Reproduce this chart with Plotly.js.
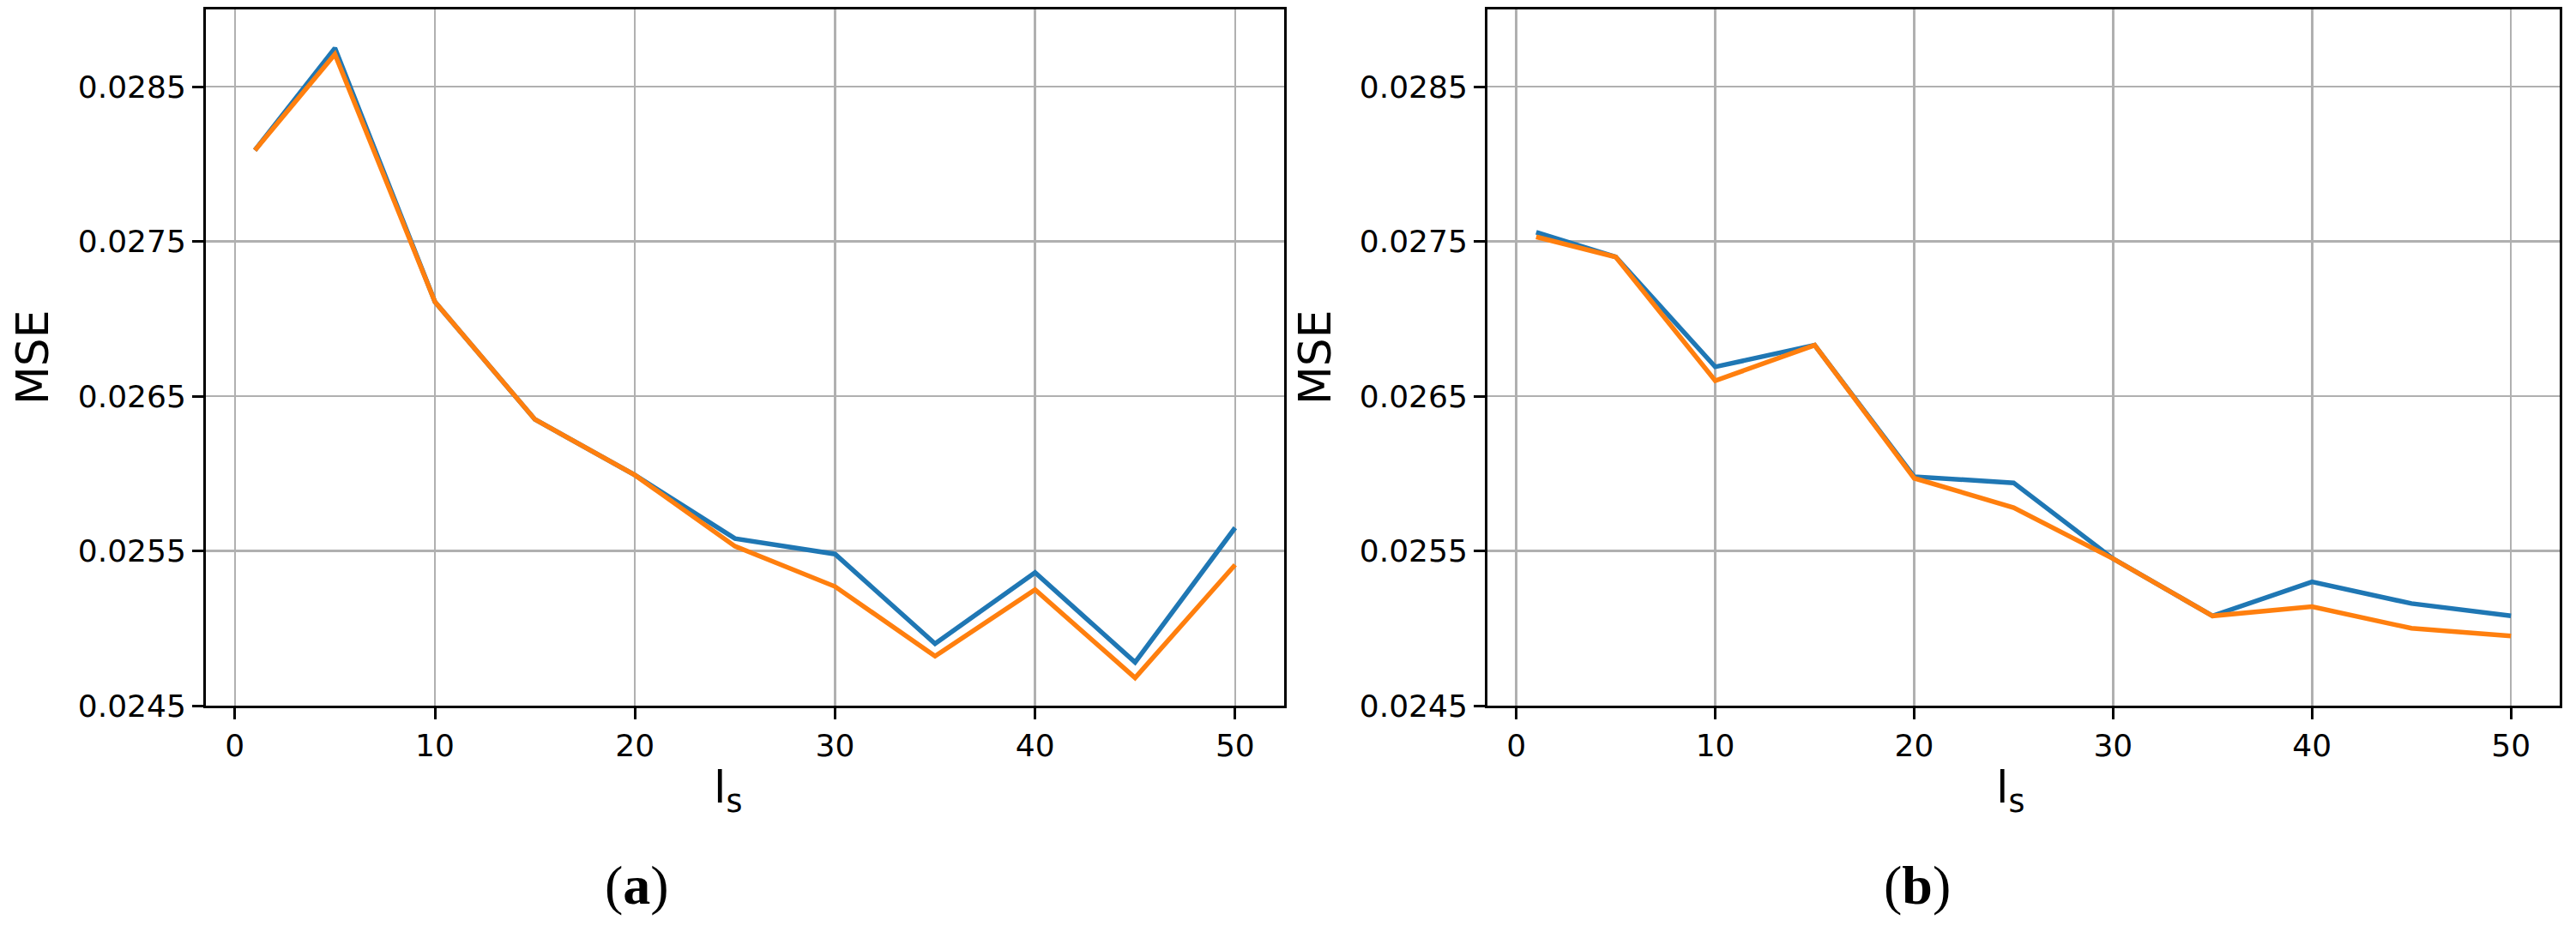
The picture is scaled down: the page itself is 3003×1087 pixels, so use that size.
<!DOCTYPE html>
<html>
<head>
<meta charset="utf-8">
<script src="https://cdn.plot.ly/plotly-3.0.1.min.js"></script>
<style>
  html, body { margin: 0; padding: 0; background: #ffffff; }
  #chart { width: 3003px; height: 1087px; }
</style>
</head>
<body>
<div id="chart"></div>
<script>
// ---- data ----
const ls = [1, 5, 10, 15, 20, 25, 30, 35, 40, 45, 50];

// panel (a)
const aBlue   = [0.02809, 0.02875, 0.02711, 0.02635, 0.02599, 0.02558, 0.02548, 0.02490, 0.02536, 0.02478, 0.02565];
const aOrange = [0.02809, 0.02871, 0.02711, 0.02635, 0.02599, 0.02553, 0.02527, 0.02482, 0.02525, 0.02468, 0.02541];

// panel (b)
const bBlue   = [0.02756, 0.02740, 0.02669, 0.02683, 0.02598, 0.02594, 0.02545, 0.02508, 0.02530, 0.02516, 0.02508];
const bOrange = [0.02753, 0.02740, 0.02660, 0.02683, 0.02597, 0.02578, 0.02545, 0.02508, 0.02514, 0.02500, 0.02495];

const yTicks = [0.0245, 0.0255, 0.0265, 0.0275, 0.0285];
const yTickText = ['0.0245', '0.0255', '0.0265', '0.0275', '0.0285'];
const xTicks = [0, 10, 20, 30, 40, 50];

const yTitle = 'MSE';
const xTitle = 'l<sub>s</sub>';
const captions = ['(<b>a</b>)', '(<b>b</b>)'];

const BLUE = '#1f77b4';
const ORANGE = '#ff7f0e';

// ---- figure ----
const W = 3003, H = 1087;
const lw = 5.5;

function line(x, y, color, xa, ya) {
  return { x: x, y: y, type: 'scatter', mode: 'lines', xaxis: xa, yaxis: ya,
           line: { color: color, width: lw }, showlegend: false, hoverinfo: 'skip' };
}

const data = [
  line(ls, aBlue, BLUE, 'x', 'y'),
  line(ls, aOrange, ORANGE, 'x', 'y'),
  line(ls, bBlue, BLUE, 'x2', 'y2'),
  line(ls, bOrange, ORANGE, 'x2', 'y2')
];

const tickFont = { family: 'DejaVu Sans', size: 36, color: '#000000' };

function xAxis(domain, anchor) {
  return {
    domain: domain, anchor: anchor, range: [-1.45, 52.45],
    tickmode: 'array', tickvals: xTicks, ticktext: xTicks.map(String),
    ticks: 'outside', ticklen: 13, tickwidth: 3, tickcolor: '#000000',
    showline: true, linecolor: '#000000', linewidth: 3, mirror: true,
    showgrid: true, gridcolor: '#b0b0b0', gridwidth: 2.5, zeroline: false,
    tickfont: tickFont, automargin: false
  };
}
function yAxis(anchor) {
  return {
    domain: [(H - 823) / H, (H - 11) / H], anchor: anchor, range: [0.0245, 0.0290],
    tickmode: 'array', tickvals: yTicks, ticktext: yTickText,
    ticks: 'outside', ticklen: 13, tickwidth: 3, tickcolor: '#000000',
    showline: true, linecolor: '#000000', linewidth: 3, mirror: true,
    showgrid: true, gridcolor: '#b0b0b0', gridwidth: 2.5, zeroline: false,
    tickfont: tickFont, automargin: false
  };
}

const labelFont = { family: 'DejaVu Sans', size: 52, color: '#000000' };
const capFont = { family: 'Liberation Serif', size: 64, color: '#000000' };

const annotations = [
  { text: yTitle, x: 38 / W, y: (H - 417) / H, xref: 'paper', yref: 'paper', textangle: -90,
    showarrow: false, xanchor: 'center', yanchor: 'middle', font: labelFont },
  { text: yTitle, x: 1533 / W, y: (H - 417) / H, xref: 'paper', yref: 'paper', textangle: -90,
    showarrow: false, xanchor: 'center', yanchor: 'middle', font: labelFont },
  { text: xTitle, x: 848 / W, y: (H - 922) / H, xref: 'paper', yref: 'paper',
    showarrow: false, xanchor: 'center', yanchor: 'middle', font: labelFont },
  { text: xTitle, x: 2343 / W, y: (H - 922) / H, xref: 'paper', yref: 'paper',
    showarrow: false, xanchor: 'center', yanchor: 'middle', font: labelFont },
  { text: captions[0], x: 742 / W, y: (H - 1032) / H, xref: 'paper', yref: 'paper',
    showarrow: false, xanchor: 'center', yanchor: 'middle', font: capFont },
  { text: captions[1], x: 2235 / W, y: (H - 1032) / H, xref: 'paper', yref: 'paper',
    showarrow: false, xanchor: 'center', yanchor: 'middle', font: capFont }
];

const layout = {
  width: W, height: H,
  margin: { l: 0, r: 0, t: 0, b: 0, pad: 0 },
  paper_bgcolor: '#ffffff', plot_bgcolor: '#ffffff',
  font: { family: 'DejaVu Sans', color: '#000000' },
  showlegend: false,
  xaxis: xAxis([240 / W, 1497 / W], 'y'),
  yaxis: yAxis('x'),
  xaxis2: xAxis([1734 / W, 2984 / W], 'y2'),
  yaxis2: yAxis('x2'),
  annotations: annotations
};

Plotly.newPlot('chart', data, layout, { staticPlot: true, displayModeBar: false });
</script>
</body>
</html>
